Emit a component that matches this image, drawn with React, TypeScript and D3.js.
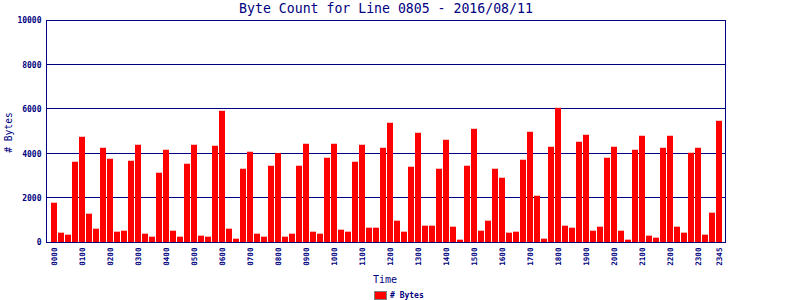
import React from "react";
import * as d3 from "d3";

const TITLE = "Byte Count for Line 0805 - 2016/08/11";
const Y_LABEL = "# Bytes";
const X_LABEL = "Time";
const LEGEND = "# Bytes";

// 96 quarter-hour slots 0000..2345
const times: string[] = [];
for (let h = 0; h < 24; h++) {
  for (let m = 0; m < 60; m += 15) {
    times.push(String(h).padStart(2, "0") + String(m).padStart(2, "0"));
  }
}

const bytes: number[] = [
  1770, 420, 330, 3615, 4740, 1275, 600, 4245, 3750, 465, 510, 3660,
  4380, 375, 240, 3120, 4155, 510, 240, 3525, 4380, 285, 240, 4335,
  5910, 600, 150, 3300, 4065, 375, 240, 3435, 4005, 240, 375, 3435,
  4425, 465, 375, 3795, 4425, 555, 465, 3615, 4380, 645, 645, 4245,
  5370, 960, 465, 3390, 4920, 735, 735, 3300, 4605, 690, 105, 3435,
  5100, 510, 960, 3300, 2895, 420, 465, 3705, 4965, 2085, 150, 4290,
  6045, 735, 645, 4515, 4830, 510, 690, 3795, 4290, 510, 105, 4155,
  4785, 285, 195, 4245, 4785, 690, 420, 4020, 4245, 330, 1320, 5460,
];

const xTickLabels: string[] = [
  "0000", "0100", "0200", "0300", "0400", "0500", "0600", "0700",
  "0800", "0900", "1000", "1100", "1200", "1300", "1400", "1500",
  "1600", "1700", "1800", "1900", "2000", "2100", "2200", "2300", "2345",
];
const yTicks: number[] = [0, 2000, 4000, 6000, 8000, 10000];

const NAVY = "#000080";
const RED = "#FF0000";
const MONO = "'DejaVu Sans Mono', 'Liberation Mono', monospace";

export default function App() {
  const W = 800, H = 300;
  const left = 46.5, right = 725.5, top = 20.5, bottom = 242.5;

  const x = d3
    .scaleBand<string>()
    .domain(times)
    .range([50.5, 722.5])
    .paddingInner(1 / 7)
    .paddingOuter(1 / 14);
  const y = d3.scaleLinear().domain([0, 10000]).range([bottom, top]);

  return (
    <svg
      width={W}
      height={H}
      style={{ position: "absolute", left: 0, top: 0, background: "#fff" }}
    >
      <text
        x={(left + right) / 2}
        y={13}
        textAnchor="middle"
        fontFamily={MONO}
        fontSize={13.2}
        fill={NAVY}
      >
        {TITLE}
      </text>

      {yTicks.slice(1, -1).map((t) => (
        <line
          key={"g" + t}
          x1={left}
          x2={right}
          y1={Math.round(y(t)) - 0.5}
          y2={Math.round(y(t)) - 0.5}
          stroke={NAVY}
          strokeWidth={1}
        />
      ))}

      {bytes.map((v, i) => (
        <rect
          key={"b" + i}
          x={x(times[i])}
          y={y(v) - 0.5}
          width={x.bandwidth()}
          height={242 - (y(v) - 0.5)}
          fill={RED}
        />
      ))}

      <rect
        x={left}
        y={top}
        width={right - left}
        height={bottom - top}
        fill="none"
        stroke={NAVY}
        strokeWidth={1}
      />

      {yTicks.map((t) => (
        <text
          key={"yl" + t}
          x={41.5}
          y={y(t) + 2.8}
          textAnchor="end"
          fontFamily={MONO}
          fontWeight="bold"
          fontSize={8}
          fill={NAVY}
        >
          {t}
        </text>
      ))}

      {xTickLabels.map((lab) => {
        const cx = (x(lab) as number) + x.bandwidth() / 2;
        return (
          <text
            key={"xl" + lab}
            transform={`translate(${cx + 2.8},${247.5}) rotate(-90)`}
            textAnchor="end"
            fontFamily={MONO}
            fontWeight="bold"
            fontSize={7.6}
            fill={NAVY}
          >
            {lab}
          </text>
        );
      })}

      <text
        transform={`translate(${11.5},${132.5}) rotate(-90)`}
        textAnchor="middle"
        fontFamily={MONO}
        fontSize={9.6}
        fill={NAVY}
      >
        {Y_LABEL}
      </text>

      <text
        x={385}
        y={282.5}
        textAnchor="middle"
        fontFamily={MONO}
        fontSize={10}
        fill={NAVY}
      >
        {X_LABEL}
      </text>

      <rect x={374.5} y={291.5} width={12} height={8} fill={RED} stroke="#808080" strokeWidth={1} />
      <text
        x={390}
        y={298}
        fontFamily={MONO}
        fontWeight="bold"
        fontSize={8}
        fill={NAVY}
      >
        {LEGEND}
      </text>
    </svg>
  );
}
